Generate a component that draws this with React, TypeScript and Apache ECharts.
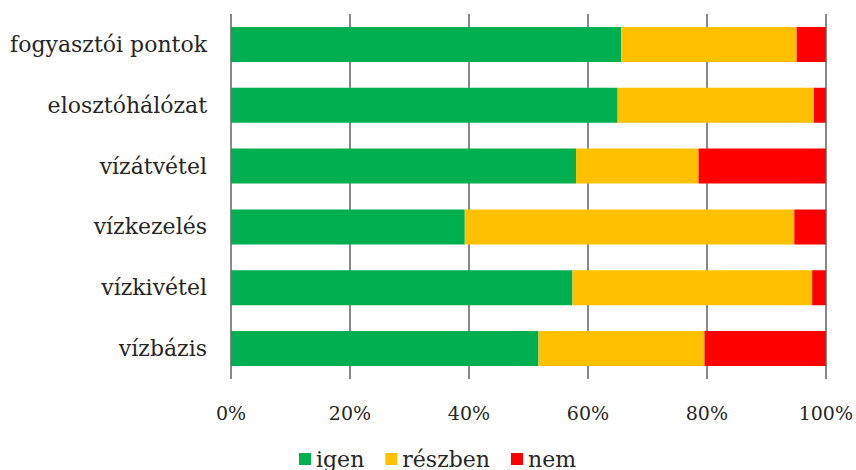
import React, { useEffect, useRef } from "react";
import * as echarts from "echarts";

const categories = [
  "fogyasztói pontok",
  "elosztóhálózat",
  "vízátvétel",
  "vízkezelés",
  "vízkivétel",
  "vízbázis",
];
const seriesNames = ["igen", "részben", "nem"];
const igen = [65.6, 65.0, 58.0, 39.3, 57.4, 51.7];
const reszben = [29.5, 33.0, 20.6, 55.4, 40.3, 27.9];
const nem = [4.9, 2.0, 21.4, 5.3, 2.3, 20.4];
const colors = ["#00B050", "#FFC000", "#FF0000"];

const FONT = "DejaVu Serif";
const TEXT = "#262626";

export default function App() {
  const ref = useRef<HTMLDivElement>(null);
  useEffect(() => {
    document.body.style.margin = "0";
    if (!ref.current) return;
    const chart = echarts.init(ref.current, null, { renderer: "svg" });
    const data = [igen, reszben, nem];
    chart.setOption({
      animation: false,
      backgroundColor: "#ffffff",
      color: colors,
      grid: { left: 231, right: 30, top: 14, bottom: 91, containLabel: false },
      legend: {
        left: 299,
        top: 448,
        icon: "rect",
        itemWidth: 12,
        itemHeight: 12,
        itemGap: 21,
        padding: 0,
        textStyle: { fontFamily: FONT, fontSize: 22, lineHeight: 22, color: TEXT },
        data: seriesNames,
      },
      xAxis: {
        type: "value",
        min: 0,
        max: 100,
        interval: 20,
        axisLine: { show: false },
        axisTick: { show: false },
        splitLine: { show: true, lineStyle: { color: "#888888", width: 2 } },
        axisLabel: {
          formatter: "{value}%",
          fontFamily: FONT,
          fontSize: 19,
          color: TEXT,
          margin: 24,
        },
      },
      yAxis: {
        type: "category",
        inverse: true,
        data: categories,
        axisLine: { show: false },
        axisTick: { show: false },
        axisLabel: {
          fontFamily: FONT,
          fontSize: 22,
          color: TEXT,
          margin: 24,
        },
      },
      series: seriesNames.map((name, i) => ({
        name,
        type: "bar",
        stack: "total",
        barWidth: 35,
        data: data[i],
        itemStyle: { color: colors[i] },
      })),
    });
    return () => chart.dispose();
  }, []);
  return <div ref={ref} style={{ width: 856, height: 470 }} />;
}
